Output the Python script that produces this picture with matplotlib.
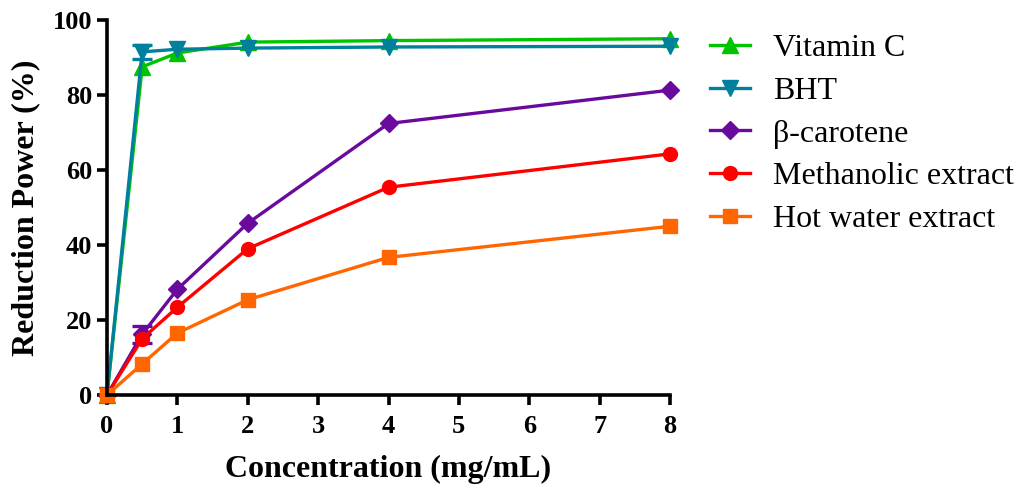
import matplotlib
matplotlib.use("Agg")
import matplotlib.pyplot as plt

# Концентрації (мг/мл) та значення відновної здатності (%)
conc = [0, 0.5, 1, 2, 4, 8]

vitamin_c = [0, 87.5, 91.2, 94.1, 94.5, 95.0]
vitamin_c_err = [0, 0, 0, 0, 0, 0]
bht = [0, 91.5, 92.2, 92.5, 92.8, 93.0]
bht_err = [0, 1.9, 0, 0, 0, 0]
beta_carotene = [0, 16.2, 28.2, 45.8, 72.4, 81.3]
beta_carotene_err = [0, 2.2, 0, 0, 0, 0]
methanolic = [0, 15.0, 23.4, 39.0, 55.4, 64.3]
methanolic_err = [0, 0, 0, 0, 0, 0]
hot_water = [0, 8.3, 16.5, 25.4, 36.7, 45.0]
hot_water_err = [0, 0, 0, 0, 0, 0]

labels = ['Vitamin C', 'BHT', 'β-carotene', 'Methanolic extract', 'Hot water extract']
colors = ['#00c400', '#00809c', '#6a0a9c', '#ff0000', '#ff6600']
markers = ['^', 'v', 'D', 'o', 's']
msizes = [11, 11, 9.5, 10, 9.5]

series = [vitamin_c, bht, beta_carotene, methanolic, hot_water]
errors = [vitamin_c_err, bht_err, beta_carotene_err, methanolic_err, hot_water_err]

fig = plt.figure(figsize=(10.24, 4.96), dpi=100)
ax = fig.add_axes([0.1045, 0.2036, 0.5498, 0.7561])

handles = []
for y, e, lab, c, m, ms in zip(series, errors, labels, colors, markers, msizes):
    h, = ax.plot(conc, y, color=c, marker=m, markersize=ms, linewidth=2.4,
                 label=lab, clip_on=False)
    handles.append(h)
    # похибки тільки там, де вони помітні
    xe = [x for x, v in zip(conc, e) if v > 0]
    ye = [yy for yy, v in zip(y, e) if v > 0]
    ee = [v for v in e if v > 0]
    if ee:
        ax.errorbar(xe, ye, yerr=ee, fmt='none', ecolor=c, elinewidth=2.4,
                    capsize=7.5, capthick=2.4, clip_on=False)

ax.set_xlim(0, 8)
ax.set_ylim(0, 100)
ax.set_xticks(range(0, 9))
ax.set_yticks(range(0, 101, 20))

for s in ['top', 'right']:
    ax.spines[s].set_visible(False)
for s in ['left', 'bottom']:
    ax.spines[s].set_linewidth(2.6)
ax.tick_params(direction='out', length=7.5, width=2.6)
ax.tick_params(axis='x', pad=7)
ax.tick_params(axis='y', pad=3)
for t in ax.get_xticklabels() + ax.get_yticklabels():
    t.set_fontfamily('Liberation Serif')
    t.set_fontweight('bold')
    t.set_fontsize(19)

ax.set_xlabel('Concentration (mg/mL)', fontfamily='Liberation Serif',
              fontweight='bold', fontsize=23, labelpad=12)
ax.set_ylabel('Reduction Power (%)', fontfamily='Liberation Serif',
              fontweight='bold', fontsize=23, labelpad=9)

leg = fig.legend(handles=handles, labels=labels, loc='upper left',
                 bbox_to_anchor=(0.693, 0.932), frameon=False,
                 prop={'family': 'Liberation Serif', 'size': 23},
                 handlelength=1.25, handletextpad=0.72, labelspacing=0.42,
                 borderpad=0, borderaxespad=0)

plt.savefig('out.png', dpi=100)
